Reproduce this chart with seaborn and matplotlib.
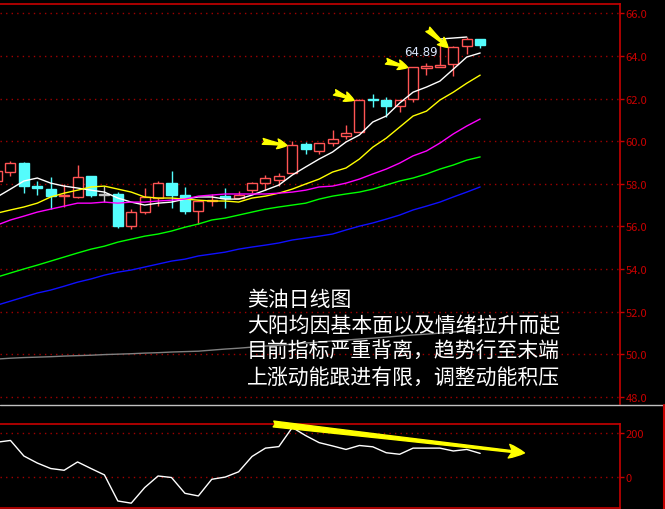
import numpy as np
import pandas as pd
import seaborn as sns
import matplotlib.pyplot as plt
from matplotlib.lines import Line2D

# daily candles (oldest -> newest)
opens = [58.11, 58.54, 58.96, 57.88, 57.74, 57.43, 57.36, 58.35, 57.48, 57.50,
         56.00, 56.66, 57.31, 58.02, 57.45, 56.70, 57.17, 57.41, 57.33, 57.69,
         58.02, 58.20, 58.49, 59.85, 59.52, 59.90, 60.23, 60.41, 61.99, 61.92,
         61.63, 61.96, 63.42, 63.46, 63.61, 64.45, 64.78]
highs = [58.70, 59.05, 59.03, 58.11, 58.30, 57.97, 58.86, 58.35, 57.88, 57.60,
         56.80, 57.78, 58.11, 58.58, 57.83, 57.20, 57.50, 57.78, 57.64, 58.07,
         58.39, 58.49, 59.99, 59.94, 59.90, 60.51, 60.74, 61.97, 62.20, 62.06,
         61.92, 63.46, 63.65, 64.50, 64.45, 64.89, 64.78]
lows = [57.95, 58.35, 57.55, 57.45, 56.80, 56.90, 57.31, 57.36, 57.13, 55.90,
        55.86, 56.56, 56.94, 56.85, 56.56, 56.10, 56.94, 56.85, 57.27, 57.55,
        57.69, 57.88, 58.49, 59.38, 59.38, 59.76, 60.08, 60.41, 61.60, 61.12,
        61.35, 61.82, 63.09, 63.46, 63.04, 64.08, 64.36]
closes = [58.58, 58.96, 57.88, 57.78, 57.41, 57.47, 58.30, 57.45, 57.48, 56.00,
          56.66, 57.36, 58.02, 57.45, 56.70, 57.17, 57.26, 57.31, 57.45, 58.02,
          58.25, 58.35, 59.80, 59.62, 59.90, 60.08, 60.37, 61.92, 61.92, 61.63,
          61.92, 63.46, 63.51, 63.56, 64.40, 64.78, 64.50]

# moving averages
ma5 = [57.38, 57.75, 58.13, 58.27, 58.03, 57.89, 57.80, 57.70, 57.61, 57.33,
       57.14, 57.00, 57.09, 57.14, 57.28, 57.38, 57.38, 57.28, 57.28, 57.47,
       57.70, 57.94, 58.41, 58.79, 59.16, 59.49, 59.96, 60.29, 60.90, 61.18,
       61.79, 62.30, 62.54, 62.82, 63.38, 63.95, 64.14]
ma10 = [56.62, 56.77, 56.91, 57.09, 57.38, 57.56, 57.70, 57.85, 57.89, 57.75,
        57.61, 57.38, 57.33, 57.33, 57.28, 57.23, 57.19, 57.19, 57.14, 57.33,
        57.42, 57.56, 57.75, 57.99, 58.22, 58.55, 58.74, 59.16, 59.72, 60.14,
        60.66, 61.18, 61.41, 61.93, 62.30, 62.72, 63.10]
ma20 = [56.06, 56.30, 56.48, 56.67, 56.81, 56.95, 57.09, 57.09, 57.14, 57.09,
        57.14, 57.14, 57.19, 57.23, 57.28, 57.42, 57.47, 57.52, 57.52, 57.52,
        57.52, 57.56, 57.61, 57.70, 57.85, 57.89, 58.03, 58.22, 58.46, 58.69,
        58.97, 59.31, 59.54, 59.91, 60.34, 60.71, 61.04]
ma40 = [53.62, 53.81, 54.00, 54.18, 54.37, 54.56, 54.75, 54.93, 55.07, 55.26,
        55.40, 55.54, 55.64, 55.78, 55.96, 56.11, 56.30, 56.39, 56.53, 56.67,
        56.81, 56.91, 57.00, 57.09, 57.28, 57.42, 57.52, 57.61, 57.75, 57.94,
        58.13, 58.27, 58.46, 58.69, 58.88, 59.11, 59.26]
ma60 = [52.30, 52.49, 52.68, 52.87, 53.01, 53.19, 53.38, 53.53, 53.71, 53.85,
        53.95, 54.09, 54.23, 54.37, 54.46, 54.61, 54.70, 54.79, 54.93, 55.03,
        55.12, 55.22, 55.36, 55.45, 55.54, 55.64, 55.83, 56.01, 56.16, 56.34,
        56.53, 56.77, 56.95, 57.14, 57.38, 57.61, 57.85]
ma250 = [49.77, 49.81, 49.84, 49.86, 49.88, 49.91, 49.93, 49.95, 49.98, 50.00,
         50.02, 50.05, 50.07, 50.10, 50.12, 50.14, 50.19, 50.24, 50.28, 50.33,
         50.38, 50.42, 50.47, 50.52, 50.57, 50.62, 50.66, 50.71, 50.75, 50.80,
         50.85, 50.90, 50.94, 50.99, 51.04, 51.08, 51.13]

# oscillator in the lower panel
cci = [160, 168, 97, 65, 40, 32, 70, 40, 11, -108, -118, -47, 6, -1, -73, -85,
       -9, 1, 25, 95, 133, 140, 227, 190, 158, 143, 127, 145, 139, 112, 105,
       133, 133, 133, 120, 127, 109]

price_ticks = [48, 50, 52, 54, 56, 58, 60, 62, 64, 66]
cci_ticks = [0, 200]

notes = ["美油日线图",
         "大阳均因基本面以及情绪拉升而起",
         "目前指标严重背离，趋势行至末端",
         "上涨动能跟进有限，调整动能积压"]

# candles the yellow arrows point at, and where each arrow starts from
arrow_targets = [22, 27, 31, 34]
arrow_offsets = [(-1.8, 0.19), (-1.45, 0.37), (-1.6, 0.29), (-1.5, 0.85)]
div_arrow = [(20.6, 243), (39.3, 111)]

RED = "#c80000"
GRID = "#a00000"
UP = "#ff5454"
DOWN = "#54fcfc"

sns.set_style("dark", {"axes.facecolor": "black", "figure.facecolor": "black"})
plt.rcParams["font.family"] = ["Noto Sans CJK SC", "DejaVu Sans"]

fig = plt.figure(figsize=(6.65, 5.10), dpi=100, facecolor="black")
ax = fig.add_axes([0, 1 - 405 / 510, 620 / 665, 400 / 510])
ax2 = fig.add_axes([0, 1 - 509 / 510, 620 / 665, 84 / 510])

idx = np.arange(len(opens))
o, h, l, c = map(np.array, (opens, highs, lows, closes))

# candle colours
cols, faces = [], []
for oo, cc in zip(o, c):
    if cc > oo:
        cols.append(UP)
        faces.append("black")
    elif cc < oo:
        cols.append(DOWN)
        faces.append(DOWN)
    else:
        cols.append("#c0c0c0")
        faces.append("#c0c0c0")

ax.vlines(idx, l, h, colors=cols, lw=1, zorder=3)
body = np.maximum(np.abs(c - o), 0.03)
ax.bar(idx, body, bottom=np.minimum(o, c), width=0.75, color=faces,
       edgecolor=cols, linewidth=1, zorder=4)

# moving averages
ma = pd.DataFrame({"i": idx, "MA5": ma5, "MA10": ma10, "MA20": ma20,
                   "MA40": ma40, "MA60": ma60, "MA250": ma250})
ma = ma.melt(id_vars="i", var_name="line", value_name="price")
palette = {"MA5": "white", "MA10": "#ffff00", "MA20": "#ff00ff",
           "MA40": "#00ff00", "MA60": "#1010ff", "MA250": "#808080"}
sns.lineplot(data=ma, x="i", y="price", hue="line", palette=palette,
             linewidth=1, legend=False, ax=ax, zorder=5)

# highest price marker
top = int(np.argmax(h))
ax.plot([top - 2.1, top], [h[top] - 0.1, h[top]], color="white", lw=1, zorder=6)
ax.text(top - 4.7, h[top] - 0.68, f"{h[top]:.2f}", color="#dce8ff",
        fontsize=8.5, family="DejaVu Sans", va="center", ha="left", zorder=6)

# yellow arrows
for t, (dx, dy) in zip(arrow_targets, arrow_offsets):
    tip = (t - 0.4, c[t])
    ax.annotate("", xy=tip, xytext=(tip[0] + dx, tip[1] + dy),
                arrowprops=dict(arrowstyle="fancy,head_length=0.5,head_width=0.5,tail_width=0.3",
                                fc="#ffff00", ec="#ffff00", mutation_scale=14,
                                shrinkA=0, shrinkB=0), zorder=7)

# commentary
for k, line in enumerate(notes):
    ax.text(247 / 620, (405 - (300 + 26 * k)) / 400, line, transform=ax.transAxes,
            color="white", fontsize=15, va="center", ha="left", zorder=8)

xlim = (0.22, 46.42)
ax.set_xlim(xlim)
ax.set_ylim(47.66, 66.44)
ax.set_yticks(price_ticks)
ax.set_yticklabels([f"{t:.1f}" for t in price_ticks])
ax.set_xticks([])
ax.set_xlabel("")
ax.set_ylabel("")
ax.yaxis.tick_right()
ax.tick_params(axis="y", colors=RED, labelsize=8, length=3, width=1, pad=1,
               direction="out")
ax.grid(axis="y", color=GRID, linestyle=(0, (1, 3)), linewidth=1)
ax.grid(axis="x", visible=False)
for side in ("left", "bottom"):
    ax.spines[side].set_visible(False)
for side in ("top", "right"):
    ax.spines[side].set_color(RED)
    ax.spines[side].set_linewidth(1.2)

# lower panel
sns.lineplot(x=idx, y=cci, color="white", linewidth=1, ax=ax2, zorder=4)
ax2.annotate("", xy=div_arrow[1], xytext=div_arrow[0],
             arrowprops=dict(arrowstyle="fancy,head_length=0.8,head_width=0.7,tail_width=0.3",
                             fc="#ffff00", ec="#ffff00", mutation_scale=14,
                             shrinkA=0, shrinkB=0), zorder=6)
ax2.set_xlim(xlim)
ax2.set_ylim(-140, 243)
ax2.set_yticks(cci_ticks)
ax2.set_yticklabels([str(t) for t in cci_ticks])
ax2.set_xticks([])
ax2.yaxis.tick_right()
ax2.tick_params(axis="y", colors=RED, labelsize=8, length=3, width=1, pad=1,
                direction="out")
ax2.grid(axis="y", color=GRID, linestyle=(0, (1, 3)), linewidth=1)
ax2.grid(axis="x", visible=False)
ax2.spines["left"].set_visible(False)
for side in ("top", "right", "bottom"):
    ax2.spines[side].set_color(RED)
    ax2.spines[side].set_linewidth(1.2)

# panel separators
fig.add_artist(Line2D([0, 1], [1 - 406 / 510] * 2, transform=fig.transFigure,
                      color="#c0c0c0", lw=1))
fig.add_artist(Line2D([663.5 / 665] * 2, [0, 1 - 406 / 510], transform=fig.transFigure,
                      color=RED, lw=1.5))

fig.savefig("out.png", dpi=100, facecolor="black")
